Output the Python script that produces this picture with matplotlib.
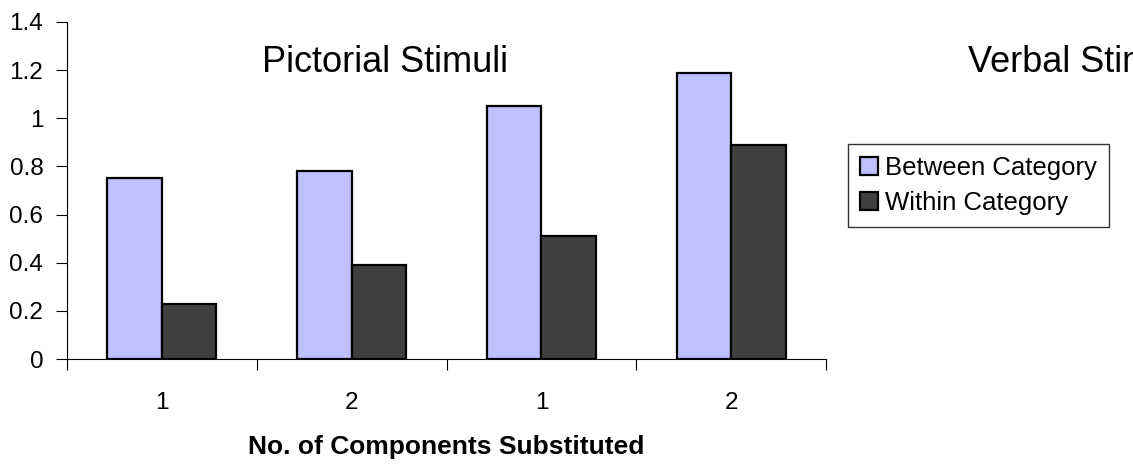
import numpy as np
import matplotlib.pyplot as plt

plt.rcParams['font.family'] = ['Liberation Sans', 'DejaVu Sans']

categories = ['1', '2', '1', '2']
between = [0.75, 0.78, 1.05, 1.19]
within = [0.23, 0.39, 0.51, 0.89]
series_names = ['Between Category', 'Within Category']
panel_titles = ['Pictorial Stimuli', 'Verbal Stimuli']
x_label = 'No. of Components Substituted'

fig = plt.figure(figsize=(11.33, 4.68), dpi=100)
ax = fig.add_axes([0.0591, 0.2329, 0.6700, 0.7201])

x = np.arange(len(categories))
w = 0.287
ax.bar(x - w / 2, between, w, color='#c0c0ff', edgecolor='black', linewidth=1.6,
       label=series_names[0])
ax.bar(x + w / 2, within, w, color='#404040', edgecolor='black', linewidth=1.6,
       label=series_names[1])

ax.set_xlim(-0.5, len(categories) - 0.5)
ax.set_ylim(0, 1.4)
ax.set_yticks(np.arange(0, 1.41, 0.2))
ax.set_yticklabels(['0', '0.2', '0.4', '0.6', '0.8', '1', '1.2', '1.4'])

# category labels centred, ticks on the boundaries
ax.set_xticks(np.arange(-0.5, len(categories), 1.0))
ax.set_xticklabels([])
ax.set_xticks(x, minor=True)
ax.set_xticklabels(categories, minor=True)
ax.tick_params(axis='x', which='minor', length=0, pad=24, labelsize=17.5)
ax.tick_params(axis='x', which='major', length=8, width=0.8, direction='out')
ax.tick_params(axis='y', length=8, width=0.8, labelsize=17.5, pad=9)

ax.spines['top'].set_visible(False)
ax.spines['right'].set_visible(False)

# second panel title runs off the right edge, as in the original
fig.text(262 / 1133, 1 - 72 / 468, panel_titles[0], fontsize=26, ha='left', va='baseline')
fig.text(968 / 1133, 1 - 72 / 468, panel_titles[1], fontsize=26, ha='left', va='baseline')
ax.set_xlabel(x_label, fontsize=19, fontweight='bold', labelpad=15)

leg = fig.legend(loc='upper left', bbox_to_anchor=(848 / 1133, 1 - 144 / 468), fontsize=18.5,
                 frameon=True, fancybox=False, edgecolor='black', handlelength=0.7,
                 handleheight=0.7, handletextpad=0.3, borderpad=0.45, labelspacing=0.45,
                 borderaxespad=0)
leg.get_frame().set_linewidth(1.0)

fig.savefig('out.png', dpi=100)
